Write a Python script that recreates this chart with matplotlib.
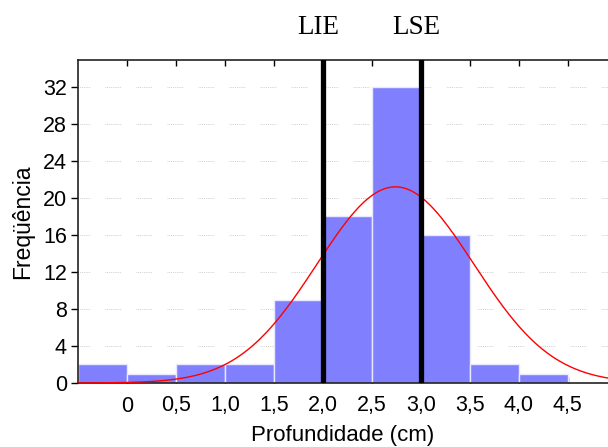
import numpy as np
import matplotlib
matplotlib.use("Agg")
import matplotlib.pyplot as plt
from matplotlib.transforms import blended_transform_factory

# Data
bin_left = [-0.5, 0.0, 0.5, 1.0, 1.5, 2.0, 2.5, 3.0, 3.5, 4.0]
counts = [2, 1, 2, 2, 9, 18, 32, 16, 2, 1]
bin_width = 0.5
fit_mean = 2.74
fit_sd = 0.80
spec_limits = [2.0, 3.0]
spec_names = ["LIE", "LSE"]
xticks = [0, 0.5, 1.0, 1.5, 2.0, 2.5, 3.0, 3.5, 4.0, 4.5]
xticklabels = ["0", "0,5", "1,0", "1,5", "2,0", "2,5", "3,0", "3,5", "4,0", "4,5"]
yticks = [0, 4, 8, 12, 16, 20, 24, 28, 32]

plt.rcParams['font.family'] = ['Liberation Sans', 'DejaVu Sans']

fig = plt.figure(figsize=(6.08, 4.47), dpi=100)
ax = fig.add_axes([78/608, 1-383/447, 1-78/608, (383-60)/447])

ax.bar(bin_left, counts, width=bin_width, align='edge', color='#8080ff',
       edgecolor='#e8e8ff', linewidth=1.0, zorder=2)

n_total = sum(counts)
xs = np.linspace(-0.5, 4.95, 400)
ys = n_total * bin_width / (fit_sd * np.sqrt(2*np.pi)) * np.exp(-(xs-fit_mean)**2/(2*fit_sd**2))
ax.plot(xs, ys, color='#ff0000', linewidth=1.0, zorder=4)

trans = blended_transform_factory(ax.transData, ax.transAxes)
for xv, name in zip(spec_limits, spec_names):
    ax.axvline(xv, color='black', linewidth=3.8, zorder=5)
    ax.text(xv - 0.05, 1.10, name, transform=trans, ha='center', va='center',
            fontsize=19.5, family=['Liberation Serif', 'DejaVu Serif'])

ax.set_xlim(-0.5, 4.91)
ax.set_ylim(0, 34.9)
ax.set_xticks(xticks)
ax.set_xticklabels(xticklabels, fontsize=15.5)
ax.set_yticks(yticks)
ax.set_yticklabels([str(v) for v in yticks], fontsize=15.5)

ax.grid(axis='y', color='#c0c0c0', linewidth=0.7,
        linestyle=(4, [0.7, 1.2]*8 + [0.7, 16]), zorder=1)
ax.set_axisbelow(True)

ax.tick_params(axis='x', direction='in', length=4, pad=9, top=True, width=1)
ax.tick_params(axis='y', direction='out', length=5, pad=3, width=1)
ax.spines['right'].set_visible(False)
for s in ['left', 'top', 'bottom']:
    ax.spines[s].set_linewidth(1.2)
    ax.spines[s].set_color('#222222')

ax.set_xlabel('Profundidade (cm)', fontsize=16, labelpad=6)
ax.set_ylabel('Freqüência', fontsize=16.5, labelpad=6)

fig.savefig('out.png', dpi=100)
